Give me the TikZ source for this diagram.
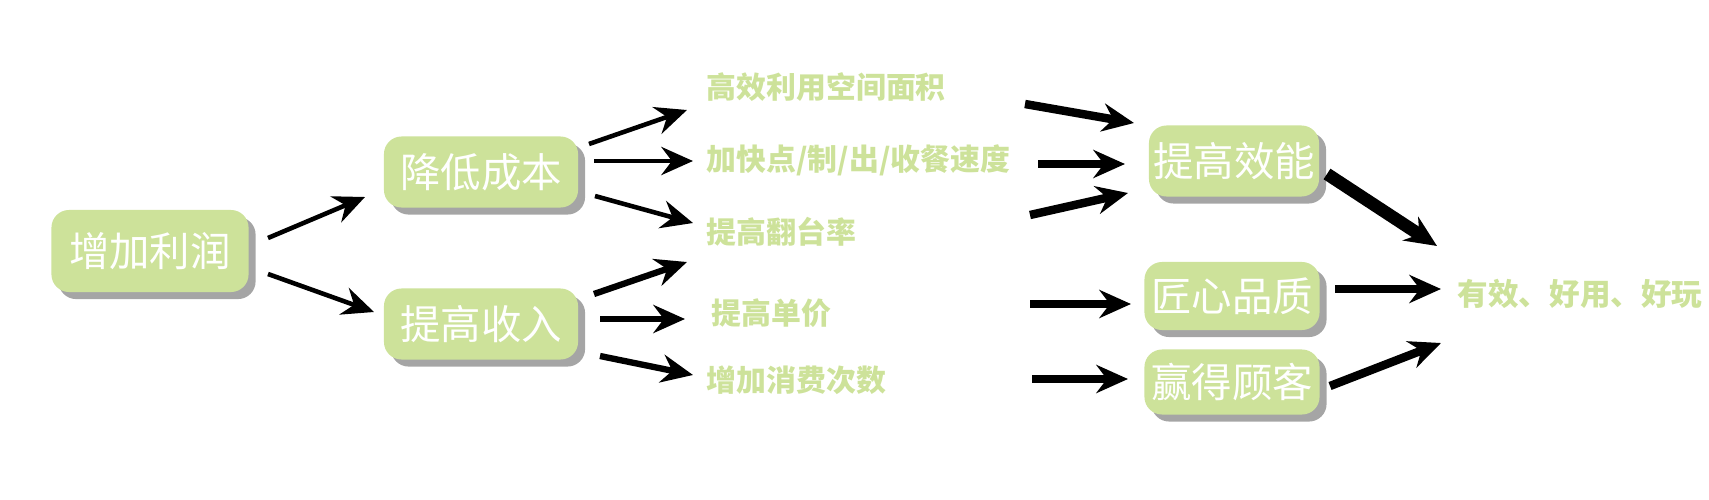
\documentclass[tikz,border=0pt]{standalone}
\usepackage{fontspec}
\newfontfamily\cjk{Noto Sans CJK SC}
\usetikzlibrary{arrows.meta,shadows}
\definecolor{leaf}{HTML}{CDE29A}
\tikzset{
  box/.style={rounded corners=5pt, fill=leaf, text=white, font=\cjk\fontsize{11.5pt}{12pt}\selectfont,
    inner sep=0pt, drop shadow={shadow xshift=2pt, shadow yshift=-2pt, fill=black!70}},
  tag/.style={anchor=west, text=leaf, font=\cjk\bfseries\fontsize{8.5pt}{9pt}\selectfont, inner sep=0pt},
  arr/.style={-{Stealth[length=9pt,width=8pt,inset=3pt]}, line width=1.3pt}
}
\begin{document}
\begin{tikzpicture}[x=0.01cm,y=-0.01cm]
\useasboundingbox (0,0) rectangle (1709,500);

% boxes
\node[box, minimum width=1.97cm, minimum height=0.82cm] (profit) at (150,251) {增加利润};
\node[box, minimum width=1.94cm, minimum height=0.71cm] (cost) at (481,172) {降低成本};
\node[box, minimum width=1.94cm, minimum height=0.71cm] (income) at (481,324) {提高收入};
\node[box, minimum width=1.70cm, minimum height=0.71cm] (eff) at (1234,161) {提高效能};
\node[box, minimum width=1.75cm, minimum height=0.68cm] (quality) at (1232,296) {匠心品质};
\node[box, minimum width=1.75cm, minimum height=0.65cm] (client) at (1232,382) {赢得顾客};

% labels
\node[tag] (space) at (706,87) {高效利用空间面积};
\node[tag] (speed) at (706,160) {加快点/制/出/收餐速度};
\node[tag] (turn) at (706,232) {提高翻台率};
\node[tag] (price) at (711,313) {提高单价};
\node[tag] (times) at (706,380) {增加消费次数};
\node[tag, font=\cjk\bfseries\fontsize{8.7pt}{9pt}\selectfont] (goal) at (1457,294) {有效、好用、好玩};

% arrows, left part
\draw[arr] (268,238) -- (365,197);
\draw[arr] (268,274) -- (374,312);
\draw[arr] (589,144) -- (687,110);
\draw[arr] (594,161) -- (693,161);
\draw[arr] (595,196) -- (693,223);
\draw[arr, line width=1.8pt] (594,294) -- (687,262);
\draw[arr, line width=1.8pt] (600,319) -- (685,319);
\draw[arr, line width=1.8pt] (600,356) -- (693,375);

% arrows, right part
\draw[arr, line width=2.4pt] (1025,104) -- (1134,123);
\draw[arr, line width=2.4pt] (1038,164) -- (1125,164);
\draw[arr, line width=2.4pt] (1030,215) -- (1128,193);
\draw[arr, line width=2.4pt] (1030,304) -- (1131,304);
\draw[arr, line width=2.4pt] (1032,379) -- (1128,379);
\draw[arr, line width=3.6pt] (1327,174) -- (1437,246);
\draw[arr, line width=2.4pt] (1335,289) -- (1441,289);
\draw[arr, line width=2.4pt] (1330,386) -- (1441,343);
\end{tikzpicture}
\end{document}
